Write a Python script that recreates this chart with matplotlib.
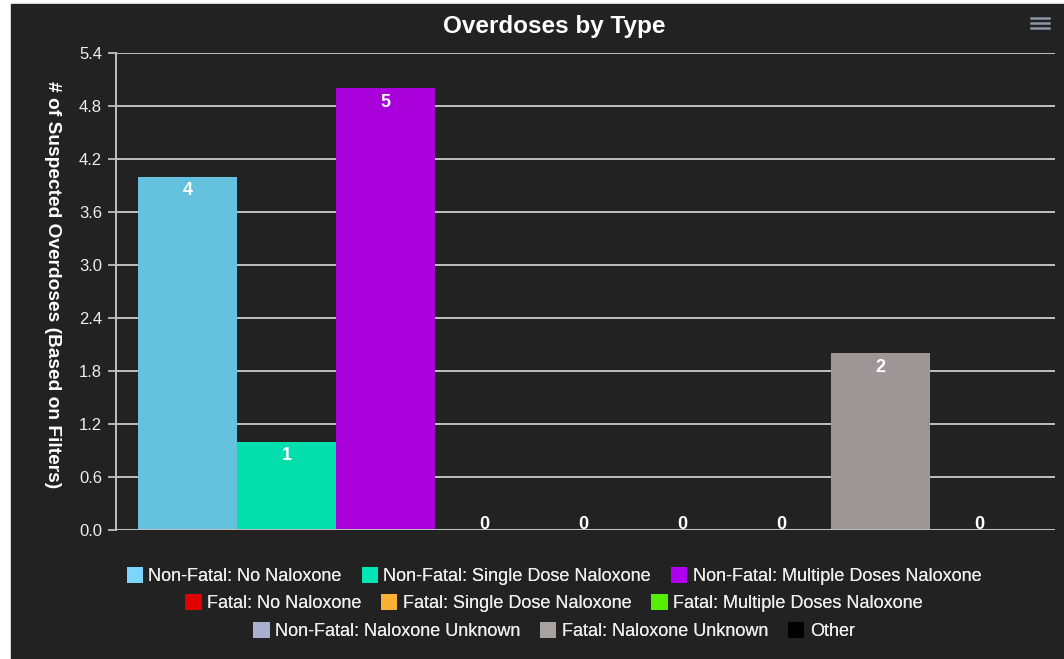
import matplotlib
matplotlib.use("Agg")
import matplotlib.pyplot as plt
from matplotlib.patches import Patch, Rectangle
from matplotlib.lines import Line2D

plt.rcParams["font.family"] = ["Liberation Sans", "DejaVu Sans"]

# data
categories = [
    "Non-Fatal: No Naloxone",
    "Non-Fatal: Single Dose Naloxone",
    "Non-Fatal: Multiple Doses Naloxone",
    "Fatal: No Naloxone",
    "Fatal: Single Dose Naloxone",
    "Fatal: Multiple Doses Naloxone",
    "Non-Fatal: Naloxone Unknown",
    "Fatal: Naloxone Unknown",
    "Other",
]
counts = [4, 1, 5, 0, 0, 0, 0, 2, 0]
y_ticks = [0.0, 0.6, 1.2, 1.8, 2.4, 3.0, 3.6, 4.2, 4.8, 5.4]

# styles
bar_colors = ["#64c2de", "#02dfad", "#a900db", "#e00000", "#f9b233",
              "#55ee00", "#a8b0d0", "#9e9696", "#000000"]
legend_colors = ["#7dd5fb", "#00e6b5", "#b000f0", "#e00000", "#f9b233",
                 "#55ee00", "#a8b0d0", "#aaa2a2", "#000000"]
bg = "#222222"
grid_c = "#c0c0c0"
text_c = "#eeeeee"

W, H = 1064, 659
fig = plt.figure(figsize=(W / 100, H / 100), dpi=100, facecolor="white")
fig.add_artist(Rectangle((11 / W, 0), 1 - 11 / W, 1 - 4 / H,
                         transform=fig.transFigure, color=bg, zorder=0))

left, right, top, bottom = 116, 1055, 53, 530
ax = fig.add_axes([left / W, 1 - bottom / H, (right - left) / W, (bottom - top) / H])
ax.set_facecolor("none")

x = list(range(len(counts)))
ax.bar(x, counts, width=1.0, color=bar_colors, zorder=3)
ax.set_xlim(-0.5 - 22 / 99, len(counts) - 0.5 + 26 / 99)
ax.set_ylim(0, 5.4)

ax.set_yticks(y_ticks)
ax.set_yticklabels([f"{v:.1f}" for v in y_ticks], color=text_c, fontsize=12)
ax.tick_params(axis="y", length=6, width=1.3, color=grid_c, pad=4)
ax.set_xticks([])
ax.grid(axis="y", color=grid_c, linewidth=1.4, zorder=1)
for s in ["top", "right", "bottom"]:
    ax.spines[s].set_visible(False)
ax.spines["left"].set_color(grid_c)
ax.spines["left"].set_linewidth(1.4)
ax.axhline(0, color=grid_c, linewidth=2.2, zorder=4)

for xi, v in zip(x, counts):
    if v > 0:
        ax.annotate(str(v), (xi, v), xytext=(0, -10), textcoords="offset points",
                    ha="center", va="center", color="white", fontsize=13,
                    fontweight="bold", zorder=5)
    else:
        ax.annotate(str(v), (xi, v), xytext=(0, 4), textcoords="offset points",
                    ha="center", va="center", color="white", fontsize=13,
                    fontweight="bold", zorder=5)

fig.text(554 / W, 1 - 27 / H, "Overdoses by Type", ha="center", va="center",
         color="white", fontsize=17.5, fontweight="bold")
fig.text(52 / W, 1 - 285 / H, "# of Suspected Overdoses (Based on Filters)",
         rotation=270, ha="center", va="center", color="white",
         fontsize=13.8, fontweight="bold")

# hamburger menu icon
for yy in (18, 23, 28):
    fig.add_artist(Line2D([1031 / W, 1049 / W], [1 - yy / H, 1 - yy / H],
                          transform=fig.transFigure, color="#8a95a5", linewidth=1.8))

# legend: three centered rows
rows = [(0, 3, 576), (3, 6, 603), (6, 9, 631)]
for a, b, yy in rows:
    handles = [Patch(facecolor=legend_colors[i], edgecolor="none") for i in range(a, b)]
    leg = fig.legend(handles, categories[a:b], loc="center", ncol=3,
                     bbox_to_anchor=(554 / W, 1 - yy / H), frameon=False,
                     fontsize=13, labelcolor=text_c, handlelength=0.9,
                     handleheight=1.0, handletextpad=0.3, columnspacing=1.1,
                     borderpad=0)
    fig.add_artist(leg)

fig.savefig("out.png", dpi=100, facecolor=fig.get_facecolor())
